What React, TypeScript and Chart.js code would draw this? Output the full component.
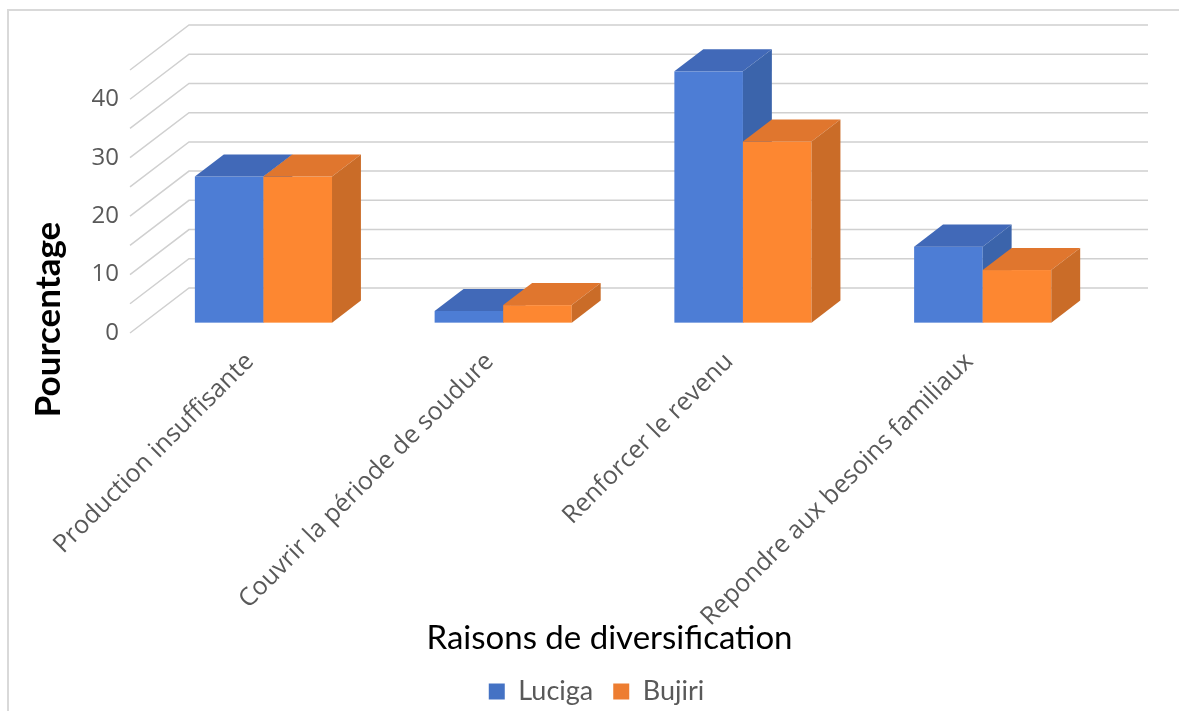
import React, { useEffect, useRef } from 'react';
import { Chart, registerables } from 'chart.js';

Chart.register(...registerables);

// ---- data ----
const categories = [
  'Production insuffisante',
  'Couvrir la période de soudure',
  'Renforcer le revenu',
  'Repondre aux besoins familiaux',
];
const seriesNames = ['Luciga', 'Bujiri'];
const lucigaValues = [25, 2, 43, 13];
const bujiriValues = [25, 3, 31, 9];
const yMax = 45;
const yStep = 5;
const yLabeledTicks = [0, 10, 20, 30, 40];

// ---- style ----
const legendColors = ['#4472c4', '#ed7d31'];
const faceColors = [
  { front: '#4d7dd5', top: '#4169b8', side: '#3b64ab' },
  { front: '#fd8731', top: '#e0762e', side: '#ca6c28' },
];
const GRID_COLOR = '#d0d0d0';
const TEXT_GRAY = '#595959';
const DEPTH = { x: 59, y: -45 };
const BAR_FRONT = 0.23;
const BAR_BACK = 0.72;

const PAD_LEFT = 14;
const PLOT_LEFT = 130;
const PLOT_RIGHT_GAP = 90;
const TITLE_SIZE = 35;
const TITLE_LH = TITLE_SIZE * 1.2;
const TITLE_CENTER_X = 49;
const TITLE_PAD_TOP = TITLE_CENTER_X - PAD_LEFT - TITLE_LH / 2;

const depthPlugin = {
  id: 'depth3d',
  beforeDatasetsDraw(chart: any) {
    const { ctx, chartArea } = chart;
    const yScale = chart.scales.y;
    ctx.save();
    ctx.strokeStyle = GRID_COLOR;
    ctx.lineWidth = 1.5;
    for (const t of yScale.ticks) {
      const py = yScale.getPixelForValue(t.value);
      ctx.beginPath();
      ctx.moveTo(chartArea.left, py);
      ctx.lineTo(chartArea.left + DEPTH.x, py + DEPTH.y);
      ctx.lineTo(chartArea.right + DEPTH.x, py + DEPTH.y);
      ctx.stroke();
    }
    const fx = DEPTH.x * BAR_FRONT;
    const fy = DEPTH.y * BAR_FRONT;
    const bx = DEPTH.x * (BAR_BACK - BAR_FRONT);
    const by = DEPTH.y * (BAR_BACK - BAR_FRONT);
    const poly = (pts: number[][]) => {
      ctx.beginPath();
      ctx.moveTo(pts[0][0], pts[0][1]);
      for (let i = 1; i < pts.length; i++) ctx.lineTo(pts[i][0], pts[i][1]);
      ctx.closePath();
      ctx.fill();
    };
    chart.data.datasets.forEach((_: any, di: number) => {
      const meta = chart.getDatasetMeta(di);
      const faces = faceColors[di];
      meta.data.forEach((el: any) => {
        const p = el.getProps(['x', 'y', 'base', 'width'], true);
        const l = p.x - p.width / 2 + fx;
        const r = p.x + p.width / 2 + fx;
        const t = Math.min(p.y, p.base) + fy;
        const b = Math.max(p.y, p.base) + fy;
        ctx.fillStyle = faces.front;
        ctx.fillRect(l, t, r - l, b - t);
        ctx.fillStyle = faces.top;
        poly([[l, t], [l + bx, t + by], [r + bx, t + by], [r, t]]);
        ctx.fillStyle = faces.side;
        poly([[r, t], [r + bx, t + by], [r + bx, b + by], [r, b]]);
      });
    });
    ctx.restore();
    return false;
  },
};

export default function App() {
  const canvasRef = useRef<HTMLCanvasElement>(null);

  useEffect(() => {
    const canvas = canvasRef.current;
    if (!canvas) return;
    const chart = new Chart(canvas, {
      type: 'bar',
      data: {
        labels: categories,
        datasets: [
          {
            label: seriesNames[0],
            data: lucigaValues,
            backgroundColor: legendColors[0],
            borderColor: legendColors[0],
            borderWidth: 0,
            xAxisID: 'x',
            yAxisID: 'y',
          },
          {
            label: seriesNames[1],
            data: bujiriValues,
            backgroundColor: legendColors[1],
            borderColor: legendColors[1],
            borderWidth: 0,
            xAxisID: 'x',
            yAxisID: 'y',
          },
        ],
      },
      options: {
        responsive: false,
        animation: false,
        events: [],
        layout: { padding: { left: PAD_LEFT, right: 0, top: -76, bottom: -4 } },
        datasets: { bar: { categoryPercentage: 0.572, barPercentage: 1 } },
        scales: {
          x: {
            type: 'category',
            position: 'bottom',
            grid: { display: false, drawTicks: false },
            border: { display: false },
            ticks: {
              autoSkip: false,
              minRotation: 45,
              maxRotation: 45,
              padding: 14,
              color: TEXT_GRAY,
              font: { family: 'Open Sans', size: 25 },
            },
            title: {
              display: true,
              text: 'Raisons de diversification',
              color: '#000000',
              font: { family: 'Lato', size: 33 },
              padding: { top: 0, bottom: 0 },
            },
            afterFit: (s: any) => {
              s.height = 325;
            },
          },
          xTop: {
            type: 'category',
            position: 'top',
            grid: { display: false, drawTicks: false },
            border: { display: false },
            ticks: { display: false },
            afterFit: (s: any) => {
              s.height = 146;
            },
          },
          y: {
            type: 'linear',
            position: 'left',
            min: 0,
            max: yMax,
            grid: { display: false, drawTicks: false },
            border: { display: false },
            ticks: {
              stepSize: yStep,
              autoSkip: false,
              padding: 11,
              color: TEXT_GRAY,
              font: { family: 'Open Sans', size: 24 },
              callback: (v: any) => (yLabeledTicks.includes(Number(v)) ? String(v) : ''),
            },
            afterFit: (s: any) => {
              s.width = PLOT_LEFT - PAD_LEFT - (TITLE_LH + TITLE_PAD_TOP);
            },
          },
          yRight: {
            type: 'linear',
            position: 'right',
            grid: { display: false, drawTicks: false },
            border: { display: false },
            ticks: { display: false },
            afterFit: (s: any) => {
              s.width = PLOT_RIGHT_GAP;
            },
          },
        },
        plugins: {
          title: {
            display: true,
            position: 'left',
            text: 'Pourcentage',
            color: '#000000',
            font: { family: 'Lato', size: TITLE_SIZE, weight: 'bold' },
            padding: { top: TITLE_PAD_TOP, bottom: 0 },
          },
          legend: {
            position: 'bottom',
            labels: {
              color: TEXT_GRAY,
              font: { family: 'Lato', size: 27 },
              boxWidth: 16,
              boxHeight: 16,
              padding: 20,
            },
          },
          tooltip: { enabled: false },
        },
      } as any,
      plugins: [depthPlugin],
    });
    return () => chart.destroy();
  }, []);

  return (
    <div
      style={{
        position: 'absolute',
        left: 0,
        top: 0,
        width: 1179,
        height: 711,
        overflow: 'hidden',
        background: '#ffffff',
      }}
    >
      <div
        style={{
          position: 'absolute',
          left: 7,
          top: 9,
          width: 1300,
          height: 800,
          border: '2px solid #d9d9d9',
          boxSizing: 'border-box',
        }}
      />
      <canvas
        ref={canvasRef}
        width={1179}
        height={711}
        style={{ position: 'absolute', left: 0, top: 0 }}
      />
    </div>
  );
}
